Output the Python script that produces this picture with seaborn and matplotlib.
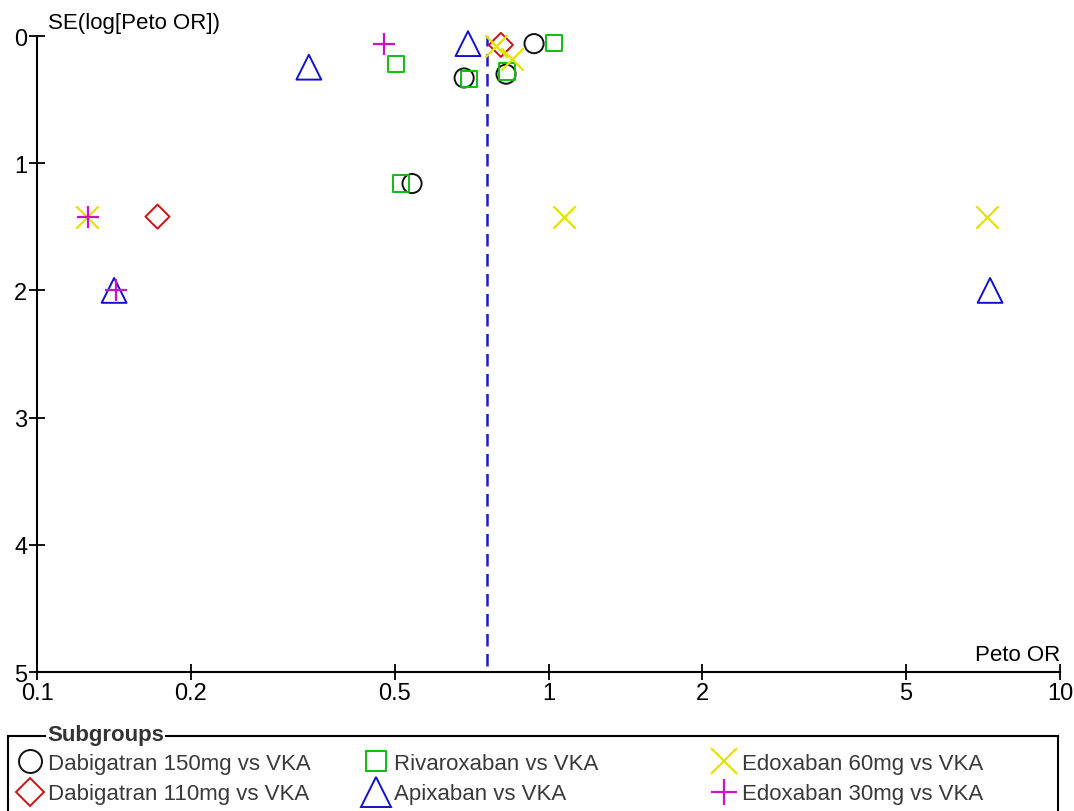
import matplotlib
matplotlib.use("Agg")
import matplotlib.pyplot as plt
import matplotlib.patches as mpatches
from matplotlib.lines import Line2D
import pandas as pd
import seaborn as sns

sns.set_style("white")
plt.rcParams["font.family"] = ["Liberation Sans", "DejaVu Sans"]

# Peto OR and SE(log OR), one list per subgroup
dab150_or = [0.937, 0.684, 0.826, 0.541]
dab150_se = [0.06, 0.33, 0.30, 1.16]
dab110_or = [0.807, 0.172]
dab110_se = [0.07, 1.42]
riva_or = [1.025, 0.503, 0.70, 0.83, 0.515]
riva_se = [0.055, 0.22, 0.34, 0.28, 1.16]
apix_or = [0.696, 0.340, 0.1415, 7.3]
apix_se = [0.06, 0.245, 2.0, 2.0]
edo60_or = [0.79, 0.848, 0.125, 1.07, 7.2]
edo60_se = [0.08, 0.18, 1.42, 1.42, 1.42]
edo30_or = [0.477, 0.126, 0.143]
edo30_se = [0.06, 1.42, 2.0]

pooled_or = 0.758

x_ticks = [0.1, 0.2, 0.5, 1, 2, 5, 10]
x_tick_labels = ["0.1", "0.2", "0.5", "1", "2", "5", "10"]
y_ticks = [0, 1, 2, 3, 4, 5]

groups = [
    ("Dabigatran 150mg vs VKA", dab150_or, dab150_se, "o", "#111111", 190, True),
    ("Dabigatran 110mg vs VKA", dab110_or, dab110_se, "D", "#cc1111", 150, True),
    ("Rivaroxaban vs VKA", riva_or, riva_se, "s", "#11bb11", 140, True),
    ("Apixaban vs VKA", apix_or, apix_se, "^", "#1111cc", 320, True),
    ("Edoxaban 60mg vs VKA", edo60_or, edo60_se, "x", "#e3e300", 260, False),
    ("Edoxaban 30mg vs VKA", edo30_or, edo30_se, "+", "#cc11cc", 260, False),
]

fig = plt.figure(figsize=(10.74, 8.12), dpi=100)
ax = fig.add_axes([37 / 1074, 1 - 673 / 812, (1060 - 37) / 1074, (673 - 37) / 812])

for name, ors, ses, marker, color, size, filled in groups:
    df = pd.DataFrame({"or": ors, "se": ses})
    if filled:
        sns.scatterplot(data=df, x="or", y="se", marker=marker, s=size, ax=ax,
                        facecolor="none", edgecolor=color, linewidth=1.4,
                        clip_on=False, zorder=3)
    else:
        sns.scatterplot(data=df, x="or", y="se", marker=marker, s=size, ax=ax,
                        color=color, linewidth=1.6, clip_on=False, zorder=3)

ax.axvline(pooled_or, ymin=0.01, ymax=1, color="#1a1acc", lw=1.8,
           dashes=(5, 3), zorder=2)

ax.set_xscale("log")
ax.set_xlim(0.1, 10)
ax.set_ylim(5, 0)
ax.set_xticks(x_ticks)
ax.set_xticklabels(x_tick_labels)
ax.minorticks_off()
ax.set_yticks(y_ticks)
ax.set_xlabel("")
ax.set_ylabel("")
ax.tick_params(bottom=True, left=True, direction="inout", length=12, width=1.3,
               labelsize=17, color="black", labelcolor="black", pad=1)
for side in ["top", "right"]:
    ax.spines[side].set_visible(False)
for side in ["left", "bottom"]:
    ax.spines[side].set_color("black")
    ax.spines[side].set_linewidth(1.5)

fig.text(48 / 1074, 1 - 24 / 812, "SE(log[Peto OR])", fontsize=16, va="center",
         color="black")
fig.text(1060 / 1074, 1 - 656 / 812, "Peto OR", fontsize=16, va="center", ha="right",
         color="black")

# legend box with title set into the top border
box = mpatches.Rectangle((8 / 1074, -0.05), (1058 - 8) / 1074, 0.05 + 1 - 737 / 812,
                         transform=fig.transFigure, fill=False, lw=1.5, ec="black")
fig.patches.append(box)
fig.text(47 / 1074, 1 - 736 / 812, "Subgroups", fontsize=16, fontweight="bold",
         va="center", color="#333333", bbox=dict(fc="white", ec="none", pad=1))

col_x = [19 / 1074, 365 / 1074, 713 / 1074]
for i, x0 in enumerate(col_x):
    handles = []
    labels = []
    for name, ors, ses, marker, color, size, filled in groups[2 * i:2 * i + 2]:
        ms = (size ** 0.5) * 1.2
        if filled:
            h = Line2D([], [], ls="none", marker=marker, markersize=ms,
                       markerfacecolor="none", markeredgecolor=color, markeredgewidth=1.4)
        else:
            h = Line2D([], [], ls="none", marker=marker, markersize=ms,
                       color=color, markeredgewidth=1.6)
        handles.append(h)
        labels.append(name)
    leg = fig.legend(handles, labels, loc="upper left", bbox_to_anchor=(x0, 1 - 754 / 812),
                     frameon=False, fontsize=16, handlelength=1.0, handletextpad=0.3,
                     labelspacing=0.42, borderpad=0, borderaxespad=0)
    for t in leg.get_texts():
        t.set_color("#3a3a3a")

fig.savefig("out.png", dpi=100)
